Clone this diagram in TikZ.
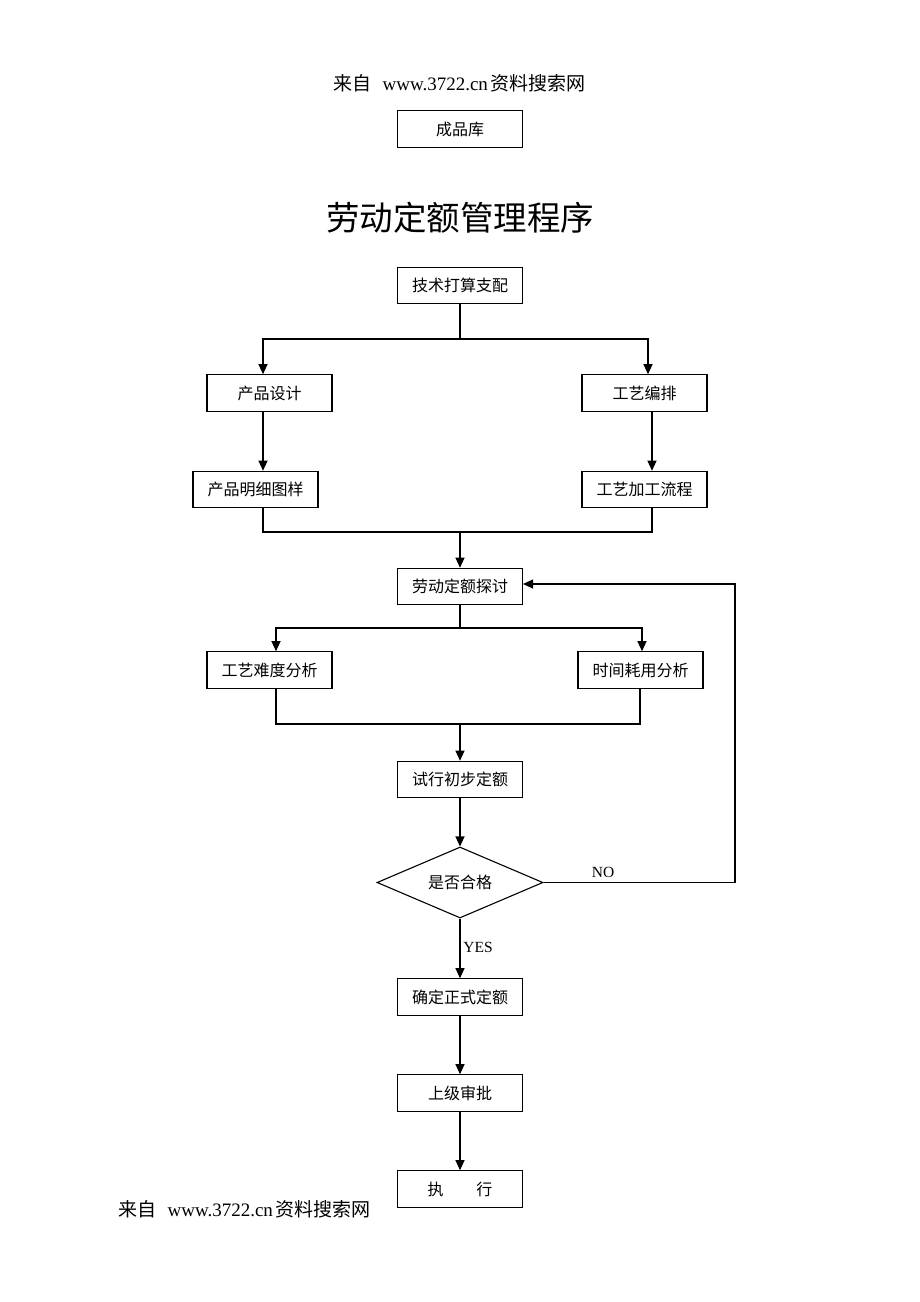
\documentclass[tikz,border=0pt]{standalone}
\usepackage{fontspec}
\setmainfont{Liberation Serif}
\newfontfamily\cjk{Noto Sans CJK SC}
\usetikzlibrary{arrows.meta,shapes.geometric}
\tikzset{
  box/.style={draw=black, line width=1.1pt, rectangle, minimum width=125pt, minimum height=36.5pt, inner sep=0pt, font=\cjk\fontsize{16}{17}\selectfont},
  dia/.style={draw=black, line width=1.1pt, diamond, aspect=2.34, minimum width=166pt, minimum height=71pt, inner sep=0pt, font=\cjk\fontsize{16}{17}\selectfont},
  ln/.style={line width=1.1pt, draw=black},
  arr/.style={ln, -{Triangle[length=10pt,width=9pt]}},
  lbl/.style={inner sep=0pt, font=\fontsize{15.5}{16}\selectfont},
  wm/.style={inner sep=0pt, font=\fontsize{19}{20}\selectfont}
}
\begin{document}
\begin{tikzpicture}[x=1pt,y=-1pt]
\useasboundingbox (0,0) rectangle (920,1302);
\fill[white] (0,0) rectangle (920,1302);
% watermarks
\node[wm] (wmt) at (459.5,83) {{\cjk 来自}\hspace{0.6em}www.3722.cn\hspace{0.15em}{\cjk 资料搜索网}};
\node[wm] (wmb) at (244.5,1209) {{\cjk 来自}\hspace{0.6em}www.3722.cn\hspace{0.15em}{\cjk 资料搜索网}};
% top box
\node[box] (cp) at (460,129) {成品库};
% title
\node[inner sep=0pt, font=\cjk\fontsize{33.5}{34}\selectfont] (title) at (460,218) {劳动定额管理程序};
% boxes
\node[box] (b1) at (460,285.5) {技术打算支配};
\node[box] (a1) at (269.5,393) {产品设计};
\node[box] (a2) at (644.5,393) {工艺编排};
\node[box] (c1) at (255.5,489.5) {产品明细图样};
\node[box] (c2) at (644.5,489.5) {工艺加工流程};
\node[box] (d) at (460,586.5) {劳动定额探讨};
\node[box] (e1) at (269.5,670) {工艺难度分析};
\node[box] (e2) at (640.5,670) {时间耗用分析};
\node[box] (f) at (460,779.5) {试行初步定额};
\node[dia] (g) at (460,882.5) {是否合格};
\node[box] (h) at (460,997) {确定正式定额};
\node[box] (i) at (460,1093) {上级审批};
\node[box] (j) at (460,1189) {执\hspace{33pt}行};
% labels
\node[lbl] (no) at (603,872) {NO};
\node[lbl] (yes) at (478,947) {YES};
% joints
\coordinate (j1) at (460,339);
\coordinate (j1l) at (263,339);
\coordinate (j1r) at (648,339);
\coordinate (xr) at (652,532);
\coordinate (m1l) at (263,532);
\coordinate (m1) at (460,532);
\coordinate (j2) at (460,628);
\coordinate (j2l) at (276,628);
\coordinate (j2r) at (642,628);
\coordinate (m2l) at (276,724);
\coordinate (m2r) at (640,724);
\coordinate (m2) at (460,724);
\coordinate (fb) at (735,882.5);
\coordinate (fbt) at (735,584);
% connectors
\draw[ln] (b1.south) -- (j1);
\draw[arr] (j1) -- (j1l) -- (j1l |- a1.north);
\draw[arr] (j1) -- (j1r) -- (j1r |- a2.north);
\draw[arr] (j1l |- a1.south) -- (j1l |- c1.north);
\draw[arr] (xr |- a2.south) -- (xr |- c2.north);
\draw[ln] (m1l |- c1.south) -- (m1l) -- (xr) -- (xr |- c2.south);
\draw[arr] (m1) -- (d.north);
\draw[ln] (d.south) -- (j2);
\draw[arr] (j2) -- (j2l) -- (j2l |- e1.north);
\draw[arr] (j2) -- (j2r) -- (j2r |- e2.north);
\draw[ln] (m2l |- e1.south) -- (m2l) -- (m2r) -- (m2r |- e2.south);
\draw[arr] (m2) -- (f.north);
\draw[arr] (f.south) -- (g.north);
\draw[arr] (g.east) -- (fb) -- (fbt) -- (fbt -| d.east);
\draw[arr] (g.south) -- (h.north);
\draw[arr] (h.south) -- (i.north);
\draw[arr] (i.south) -- (j.north);
\end{tikzpicture}
\end{document}
